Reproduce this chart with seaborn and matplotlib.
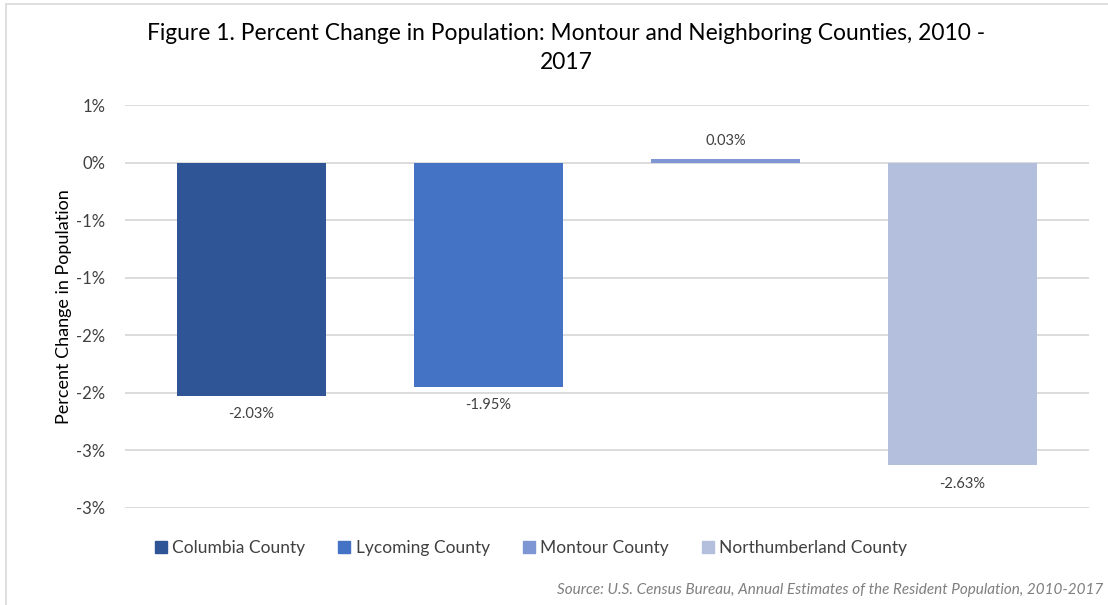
import matplotlib
matplotlib.use("Agg")
import matplotlib.pyplot as plt
import seaborn as sns
import pandas as pd
from matplotlib.lines import Line2D

counties = ["Columbia County", "Lycoming County", "Montour County", "Northumberland County"]
pct_change = [-2.03, -1.95, 0.03, -2.63]
value_labels = ["-2.03%", "-1.95%", "0.03%", "-2.63%"]
colors = ["#2F5597", "#4472C4", "#7F96D4", "#B4BFDE"]
y_ticks = [0.5, 0.0, -0.5, -1.0, -1.5, -2.0, -2.5, -3.0]
y_tick_labels = ["1%", "0%", "-1%", "-1%", "-2%", "-2%", "-3%", "-3%"]

title = "Figure 1. Percent Change in Population: Montour and Neighboring Counties, 2010 -\n2017"
y_label = "Percent Change in Population"
source = "Source: U.S. Census Bureau, Annual Estimates of the Resident Population, 2010-2017"

sns.set_theme(style="white")
plt.rcParams["font.family"] = ["Lato", "DejaVu Sans"]

df = pd.DataFrame({"county": counties, "pct": pct_change})

fig = plt.figure(figsize=(11.08, 6.05), dpi=100)
ax = fig.add_axes([125 / 1108, 1 - 508 / 605, 964 / 1108, 403 / 605])

sns.barplot(data=df, x="county", y="pct", hue="county", hue_order=counties,
            palette=colors, dodge=False, width=0.63, ax=ax, legend=False,
            saturation=1, edgecolor="none")

for cont, lab in zip(ax.containers, value_labels):
    ax.bar_label(cont, labels=[lab], padding=8, fontsize=10.5, color="#404040")

ax.set_ylim(-3.0, 0.5)
ax.set_xlim(-0.534, 3.534)
ax.set_yticks(y_ticks)
ax.set_yticklabels(y_tick_labels, fontsize=12, color="#404040")
ax.set_xticks([])
ax.set_xlabel("")
ax.set_ylabel(y_label, fontsize=13, color="#000000", labelpad=3)
ax.tick_params(axis="y", length=0, pad=14)
ax.grid(axis="y", color="#D9D9D9", linewidth=1.3)
ax.set_axisbelow(True)
for s in ax.spines.values():
    s.set_visible(False)

handles = [Line2D([0], [0], marker="s", linestyle="none", markersize=9,
                  markerfacecolor=c, markeredgecolor=c) for c in colors]
fig.legend(handles, counties, loc="center", bbox_to_anchor=(531 / 1108, 1 - 548 / 605),
           ncol=4, frameon=False, fontsize=12.5, handletextpad=0.3,
           handlelength=0.7, columnspacing=1.9, labelcolor="#404040")

fig.text(566 / 1108, 1 - 48 / 605, title, ha="center", va="center",
         fontsize=16.4, color="#000000", linespacing=1.45)
fig.text(1103 / 1108, 1 - 590 / 605, source, ha="right", va="center",
         fontsize=11, style="italic", color="#7F7F7F")

fig.add_artist(Line2D([5.5 / 1108, 5.5 / 1108], [0, 1 - 4 / 605],
                      transform=fig.transFigure, color="#D9D9D9", linewidth=1.2))
fig.add_artist(Line2D([5.5 / 1108, 1], [1 - 4 / 605, 1 - 4 / 605],
                      transform=fig.transFigure, color="#D9D9D9", linewidth=1.2))

fig.savefig("out.png", dpi=100)
